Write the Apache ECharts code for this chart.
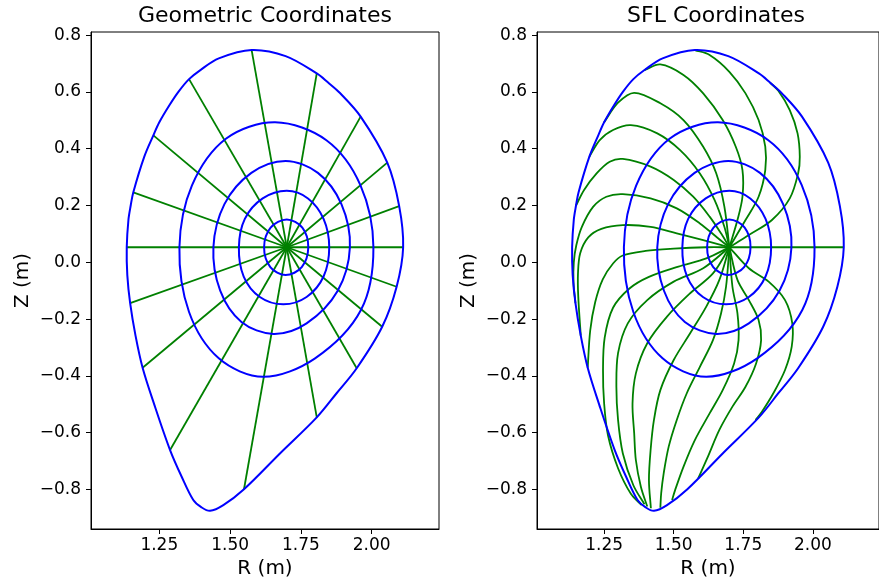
<!DOCTYPE html>
<html>
<head>
<meta charset="utf-8">
<script src="https://cdn.jsdelivr.net/npm/echarts@6/dist/echarts.min.js"></script>
<style>
html,body{margin:0;padding:0;background:#fff;}
#chart{width:879px;height:585px;}
</style>
</head>
<body>
<div id="chart"></div>
<script>
// ---------- data ----------
const xTicks = [1.25, 1.50, 1.75, 2.00];
const yTicks = [-0.8, -0.6, -0.4, -0.2, 0.0, 0.2, 0.4, 0.6, 0.8];
const xRange = [1.0088, 2.2376];
const yRange = [-0.939, 0.811];
const magAxis = [1.70, 0.053];

// outer boundary (last closed flux surface), closed loop
const boundary = [[2.111,0.053],[2.097,0.198],[2.055,0.351],[1.961,0.513],[1.888,0.596],[1.846,0.633],[1.806,0.665],[1.696,0.726],[1.576,0.7475],[1.460,0.718],[1.395,0.677],[1.355,0.645],[1.318,0.601],[1.285,0.552],[1.250,0.493],[1.229,0.447],[1.197,0.372],[1.158,0.246],[1.149,0.200],[1.141,0.150],[1.135,0.053],[1.137,-0.045],[1.147,-0.144],[1.166,-0.258],[1.191,-0.371],[1.232,-0.500],[1.288,-0.661],[1.329,-0.755],[1.370,-0.837],[1.398,-0.862],[1.429,-0.875],[1.476,-0.855],[1.549,-0.799],[1.676,-0.673],[1.806,-0.546],[1.876,-0.461],[1.947,-0.373],[2.037,-0.227],[2.088,-0.086]];
// inner flux surfaces, closed loops
const surf1 = [[2.006,0.053],[1.960,0.272],[1.840,0.430],[1.659,0.493],[1.485,0.435],[1.365,0.270],[1.321,0.053],[1.355,-0.175],[1.460,-0.338],[1.617,-0.403],[1.800,-0.338],[1.962,-0.168]];
const surf2 = [[1.923,0.053],[1.893,0.205],[1.810,0.315],[1.696,0.357],[1.575,0.315],[1.480,0.205],[1.441,0.053],[1.465,-0.100],[1.540,-0.210],[1.653,-0.252],[1.770,-0.215],[1.880,-0.100]];
const surf3 = [[1.850,0.053],[1.830,0.153],[1.775,0.225],[1.700,0.252],[1.615,0.225],[1.552,0.153],[1.531,0.053],[1.548,-0.050],[1.605,-0.122],[1.688,-0.148],[1.770,-0.122],[1.830,-0.050]];
const surf4 = [[1.776,0.053],[1.755,0.122],[1.700,0.151],[1.643,0.122],[1.620,0.053],[1.642,-0.017],[1.696,-0.045],[1.753,-0.017]];

// geometric-angle rays: end points on the boundary (every 20 deg)
const geoEnds = [[2.111,0.053],[2.097,0.198],[2.055,0.351],[1.961,0.513],[1.806,0.665],[1.576,0.7475],[1.355,0.645],[1.229,0.447],[1.158,0.246],[1.135,0.053],[1.147,-0.144],[1.191,-0.371],[1.288,-0.661],[1.549,-0.799],[1.806,-0.546],[1.947,-0.373],[2.037,-0.227],[2.088,-0.086]];

// straight-field-line curves
const sfl000 = [[1.70,0.053],[2.111,0.053]];
const sfl020 = [[1.70,0.053],[1.770,0.096],[1.853,0.149],[1.917,0.225],[1.947,0.313],[1.953,0.372],[1.945,0.454],[1.917,0.536],[1.876,0.604],[1.846,0.633]];
const sfl040 = [[1.70,0.053],[1.758,0.149],[1.805,0.231],[1.829,0.325],[1.829,0.407],[1.805,0.501],[1.758,0.595],[1.700,0.671],[1.629,0.730],[1.576,0.7475]];
const sfl060 = [[1.70,0.053],[1.729,0.149],[1.747,0.231],[1.747,0.325],[1.723,0.407],[1.676,0.501],[1.606,0.595],[1.535,0.660],[1.452,0.697],[1.395,0.677]];
const sfl080 = [[1.70,0.053],[1.682,0.196],[1.653,0.313],[1.606,0.407],[1.535,0.501],[1.452,0.560],[1.358,0.597],[1.300,0.562],[1.250,0.493]];
const sfl100 = [[1.70,0.053],[1.682,0.125],[1.647,0.219],[1.594,0.313],[1.523,0.395],[1.441,0.454],[1.346,0.483],[1.282,0.466],[1.235,0.431],[1.197,0.372]];
const sfl120 = [[1.70,0.053],[1.670,0.102],[1.629,0.161],[1.570,0.231],[1.500,0.290],[1.417,0.337],[1.317,0.364],[1.270,0.354],[1.223,0.313],[1.178,0.255],[1.149,0.200]];
const sfl140 = [[1.70,0.053],[1.653,0.090],[1.594,0.137],[1.511,0.190],[1.417,0.225],[1.317,0.240],[1.258,0.231],[1.211,0.196],[1.170,0.125],[1.150,0.060],[1.141,0.000],[1.140,-0.070],[1.147,-0.144]];
const sfl160 = [[1.70,0.053],[1.606,0.078],[1.511,0.102],[1.417,0.125],[1.317,0.131],[1.240,0.118],[1.193,0.088],[1.164,0.032],[1.156,-0.040],[1.157,-0.120],[1.166,-0.258]];
const sfl180 = [[1.70,0.053],[1.617,0.053],[1.500,0.048],[1.399,0.040],[1.317,0.024],[1.282,-0.004],[1.245,-0.060],[1.218,-0.140],[1.200,-0.240],[1.191,-0.371]];
const sfl200 = [[1.70,0.053],[1.617,0.014],[1.517,-0.015],[1.411,-0.051],[1.341,-0.092],[1.282,-0.160],[1.252,-0.265],[1.246,-0.380],[1.250,-0.497],[1.264,-0.610],[1.300,-0.725],[1.346,-0.815],[1.385,-0.855]];
const sfl220 = [[1.70,0.053],[1.606,-0.021],[1.500,-0.068],[1.405,-0.133],[1.335,-0.215],[1.300,-0.320],[1.294,-0.438],[1.300,-0.555],[1.317,-0.672],[1.355,-0.785],[1.395,-0.852]];
const sfl240 = [[1.70,0.053],[1.641,-0.039],[1.559,-0.109],[1.476,-0.191],[1.405,-0.285],[1.364,-0.391],[1.352,-0.497],[1.358,-0.602],[1.364,-0.696],[1.382,-0.790],[1.405,-0.860]];
const sfl260 = [[1.70,0.053],[1.664,-0.062],[1.617,-0.156],[1.559,-0.250],[1.500,-0.344],[1.452,-0.450],[1.429,-0.555],[1.417,-0.661],[1.411,-0.767],[1.418,-0.866]];
const sfl280 = [[1.70,0.053],[1.688,-0.086],[1.670,-0.180],[1.641,-0.274],[1.594,-0.368],[1.547,-0.461],[1.511,-0.555],[1.482,-0.649],[1.464,-0.743],[1.455,-0.813],[1.452,-0.864]];
const sfl300 = [[1.70,0.053],[1.711,-0.086],[1.729,-0.180],[1.733,-0.274],[1.717,-0.356],[1.676,-0.450],[1.629,-0.532],[1.576,-0.626],[1.535,-0.720],[1.505,-0.802],[1.494,-0.837]];
const sfl320 = [[1.70,0.053],[1.729,-0.062],[1.770,-0.133],[1.805,-0.203],[1.814,-0.274],[1.796,-0.356],[1.758,-0.438],[1.711,-0.508],[1.664,-0.590],[1.623,-0.684],[1.588,-0.761]];
const sfl340 = [[1.70,0.053],[1.770,-0.021],[1.841,-0.068],[1.900,-0.133],[1.926,-0.215],[1.924,-0.297],[1.900,-0.379],[1.858,-0.461],[1.817,-0.526],[1.794,-0.555]];

const titles = ['Geometric Coordinates', 'SFL Coordinates'];
const xName = 'R (m)';
const yName = 'Z (m)';

// ---------- chart ----------
const BLUE = '#0000ff', GREEN = '#008000';
const FONT = 'DejaVu Sans';
const grids = [
  {left: 91, top: 32, width: 348, height: 497},
  {left: 537, top: 32, width: 348, height: 497}
];
const surfaces = [boundary, surf1, surf2, surf3, surf4];
const sflCurves = [sfl000, sfl020, sfl040, sfl060, sfl080, sfl100, sfl120, sfl140, sfl160, sfl180,
                   sfl200, sfl220, sfl240, sfl260, sfl280, sfl300, sfl320, sfl340];

function fmtY(v) {
  const s = Math.abs(v).toFixed(1);
  return (v < -1e-9 ? '\u2212' : '') + s;
}

// smooth path (Catmull-Rom style cubic segments) through pixel points given by the axes
function smoothPath(px, closedLoop, k) {
  const n = px.length;
  const get = i => closedLoop ? px[(i + n) % n] : px[Math.max(0, Math.min(n - 1, i))];
  const dist = (a, b) => Math.hypot(b[0] - a[0], b[1] - a[1]);
  let d = 'M' + px[0][0] + ' ' + px[0][1];
  const segs = closedLoop ? n : n - 1;
  for (let i = 0; i < segs; i++) {
    const p0 = get(i - 1), p1 = get(i), p2 = get(i + 1), p3 = get(i + 2);
    const d01 = dist(p0, p1), d12 = dist(p1, p2), d23 = dist(p2, p3);
    const r1 = (d01 + d12) > 0 ? k * 2 * d12 / (d01 + d12) : 0;
    const r2 = (d12 + d23) > 0 ? k * 2 * d12 / (d12 + d23) : 0;
    const c1 = [p1[0] + (p2[0] - p0[0]) * r1, p1[1] + (p2[1] - p0[1]) * r1];
    const c2 = [p2[0] - (p3[0] - p1[0]) * r2, p2[1] - (p3[1] - p1[1]) * r2];
    d += ' C' + c1[0] + ' ' + c1[1] + ' ' + c2[0] + ' ' + c2[1] + ' ' + p2[0] + ' ' + p2[1];
  }
  if (closedLoop) d += ' Z';
  return d;
}

function curveSeries(curves, idx, color, width, closedLoop, z) {
  return {
    type: 'custom', coordinateSystem: 'cartesian2d', xAxisIndex: idx, yAxisIndex: idx,
    data: curves.map(c => c[0]), silent: true, z: z, animation: false,
    renderItem: function (params, api) {
      const c = curves[params.dataIndex];
      const px = c.map(p => api.coord(p));
      return {
        type: 'path',
        shape: {pathData: smoothPath(px, closedLoop, 1 / 6)},
        style: {fill: 'none', stroke: color, lineWidth: width, lineJoin: 'round', lineCap: 'butt'}
      };
    }
  };
}

const xAxes = grids.map((g, i) => ({
  gridIndex: i, type: 'value', min: xRange[0], max: xRange[1],
  splitLine: {show: false},
  axisLine: {show: true, onZero: false, lineStyle: {color: '#000', width: 1}},
  axisTick: {show: true, inside: false, length: 5, customValues: xTicks, lineStyle: {color: '#000', width: 1}},
  axisLabel: {show: true, customValues: xTicks, formatter: v => v.toFixed(2), fontSize: 17, color: '#000', fontFamily: FONT, margin: 8},
  name: xName, nameLocation: 'middle', nameGap: 29,
  nameTextStyle: {fontSize: 20, color: '#000', fontFamily: FONT}
}));
const yAxes = grids.map((g, i) => ({
  gridIndex: i, type: 'value', min: yRange[0], max: yRange[1],
  splitLine: {show: false},
  axisLine: {show: true, onZero: false, lineStyle: {color: '#000', width: 1}},
  axisTick: {show: true, inside: false, length: 5, customValues: yTicks, lineStyle: {color: '#000', width: 1}},
  axisLabel: {show: true, customValues: yTicks, formatter: fmtY, fontSize: 17, color: '#000', fontFamily: FONT, margin: 10},
  name: yName, nameLocation: 'middle', nameGap: 58, nameRotate: 90,
  nameTextStyle: {fontSize: 20, color: '#000', fontFamily: FONT}
}));

const series = [];
// geometric rays (left): straight lines from the magnetic axis
geoEnds.forEach(e => series.push({
  type: 'line', xAxisIndex: 0, yAxisIndex: 0, data: [magAxis, e],
  symbol: 'none', showSymbol: false, silent: true, animation: false, z: 2,
  lineStyle: {color: GREEN, width: 1.8}
}));
// SFL curves (right)
series.push(curveSeries(sflCurves, 1, GREEN, 1.8, false, 2));
// flux surfaces on both panels
series.push(curveSeries(surfaces, 0, BLUE, 2, true, 3));
series.push(curveSeries(surfaces, 1, BLUE, 2, true, 3));

const chart = echarts.init(document.getElementById('chart'), null, {renderer: 'canvas'});
chart.setOption({
  animation: false,
  backgroundColor: '#fff',
  grid: grids.map(g => Object.assign({show: true, borderColor: '#000', borderWidth: 1, backgroundColor: 'transparent'}, g)),
  xAxis: xAxes,
  yAxis: yAxes,
  graphic: [
    {type: 'text', x: 265, y: 16, style: {text: titles[0], font: '22px "DejaVu Sans"', fill: '#000', textAlign: 'center', textVerticalAlign: 'middle'}},
    {type: 'text', x: 716, y: 16, style: {text: titles[1], font: '22px "DejaVu Sans"', fill: '#000', textAlign: 'center', textVerticalAlign: 'middle'}}
  ],
  series: series
});
</script>
</body>
</html>
